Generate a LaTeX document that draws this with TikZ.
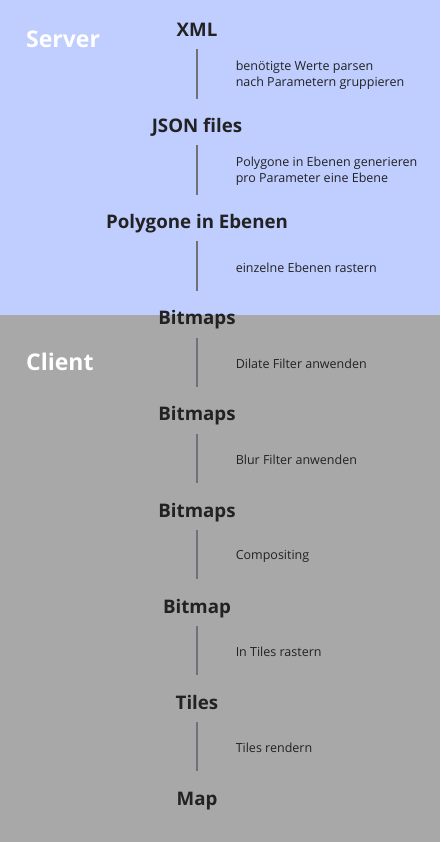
\documentclass[tikz,border=0pt]{standalone}
\usepackage{fontspec}
\setmainfont{Open Sans}
\usetikzlibrary{positioning}
\definecolor{serverblue}{RGB}{191,205,255}
\definecolor{clientgray}{RGB}{168,168,168}
\definecolor{stepline}{RGB}{112,112,122}
\definecolor{textdark}{RGB}{34,34,34}

\begin{document}
\begin{tikzpicture}[
        node distance=76.7pt,
        stage/.style={inner sep=0pt, text height=14pt, text depth=5pt, font=\fontsize{18.7}{22}\selectfont\bfseries, text=textdark},
        note/.style={inner sep=0pt, anchor=west, xshift=38pt, yshift=4.5pt, align=left, font=\fontsize{12.5}{16}\selectfont, text=textdark},
        tier/.style={anchor=base west, inner sep=0pt, font=\fontsize{23}{26}\selectfont\bfseries, text=white},
        conn/.style={draw=stepline, line width=1.5pt, shorten <=7.5pt, shorten >=19.7pt}
    ]
        \fill[serverblue] (0,0) rectangle (440pt,-315pt);
        \fill[clientgray] (0,-315pt) rectangle (440pt,-842pt);
        \path[use as bounding box] (0,0) rectangle (440pt,-842pt);

        \node[tier] (server) at (26pt,-48pt) {Server};
        \node[tier] (client) at (26pt,-370pt) {Client};

        \node[stage, anchor=base] (xml) at (197pt,-36.5pt) {XML};
        \node[stage, below=of xml] (json) {JSON files};
        \node[stage, below=of json] (polygone) {Polygone in Ebenen};
        \node[stage, below=of polygone] (bitmaps1) {Bitmaps};
        \node[stage, below=of bitmaps1] (bitmaps2) {Bitmaps};
        \node[stage, below=of bitmaps2] (bitmaps3) {Bitmaps};
        \node[stage, below=of bitmaps3] (bitmap) {Bitmap};
        \node[stage, below=of bitmap] (tiles) {Tiles};
        \node[stage, below=of tiles] (map) {Map};

        \draw[conn] (xml) -- (json) node[note, midway] {benötigte Werte parsen\\nach Parametern gruppieren};
        \draw[conn] (json) -- (polygone) node[note, midway] {Polygone in Ebenen generieren\\pro Parameter eine Ebene};
        \draw[conn] (polygone) -- (bitmaps1) node[note, midway] {einzelne Ebenen rastern};
        \draw[conn] (bitmaps1) -- (bitmaps2) node[note, midway] {Dilate Filter anwenden};
        \draw[conn] (bitmaps2) -- (bitmaps3) node[note, midway] {Blur Filter anwenden};
        \draw[conn] (bitmaps3) -- (bitmap) node[note, midway] {Compositing};
        \draw[conn] (bitmap) -- (tiles) node[note, midway] {In Tiles rastern};
        \draw[conn] (tiles) -- (map) node[note, midway] {Tiles rendern};
    \end{tikzpicture}
\end{document}
